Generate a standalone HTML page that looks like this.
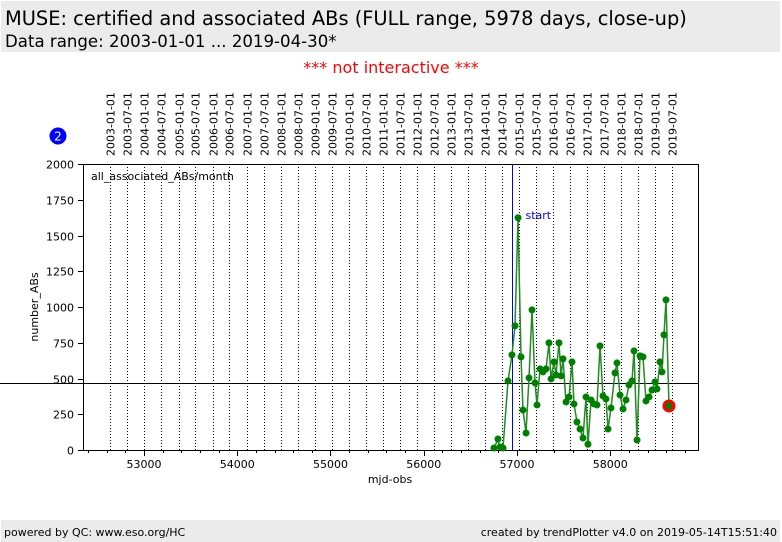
<!DOCTYPE html>
<html><head><meta charset="utf-8">
<style>
body{margin:0;width:782px;height:542px;background:#fff;font-family:"DejaVu Sans","Liberation Sans",sans-serif;position:relative;overflow:hidden}
#hdr{position:absolute;left:1px;top:1px;width:779px;height:51px;background:#ebebeb}
#t1{position:absolute;left:4px;top:6px;font-size:19.4px;color:#000}
#t2{position:absolute;left:4px;top:31px;font-size:16.6px;color:#000}
#ni{position:absolute;left:0;width:782px;top:58px;text-align:center;color:#f00;font-size:16px}
#ftr{position:absolute;left:1px;top:520px;width:779px;height:22px;background:#ebebeb;font-size:11px}
svg{position:absolute;left:0;top:0}
</style></head><body>
<div id="hdr">
<div id="t1">MUSE: certified and associated ABs (FULL range, 5978 days, close-up)</div>
<div id="t2">Data range: 2003-01-01 ... 2019-04-30*</div>
</div>
<div id="ni">*** not interactive ***</div>
<div id="ftr">
<span style="position:absolute;left:3px;top:6px">powered by QC: www.eso.org/HC</span>
<span style="position:absolute;right:3px;top:6px">created by trendPlotter v4.0 on 2019-05-14T15:51:40</span>
</div>
<svg id="chart" width="782" height="542"></svg>
<script>
const mjd=[56753,56796,56818,56850,56904,56946,56979,57011,57043,57064,57097,57129,57161,57193,57215,57247,57279,57311,57343,57365,57397,57418,57450,57472,57493,57526,57558,57590,57611,57643,57676,57708,57740,57761,57794,57826,57858,57890,57922,57954,57976,58008,58051,58072,58105,58137,58169,58201,58233,58255,58287,58319,58351,58383,58416,58448,58480,58501,58533,58555,58576,58598,58630];
const vals=[14,77,21,14,483,665,868,1624,651,280,119,504,980,469,315,567,546,567,749,497,616,525,749,518,637,336,371,616,322,196,147,84,371,40,350,322,315,728,378,357,147,294,539,609,385,287,350,455,483,693,70,658,651,343,371,420,476,427,616,546,805,1050,308];
const xTicks=[53000,54000,55000,56000,57000,58000];
const yTicks=[0,250,500,750,1000,1250,1500,1750,2000];
const dateLabels=["2003-01-01","2003-07-01","2004-01-01","2004-07-01","2005-01-01","2005-07-01","2006-01-01","2006-07-01","2007-01-01","2007-07-01","2008-01-01","2008-07-01","2009-01-01","2009-07-01","2010-01-01","2010-07-01","2011-01-01","2011-07-01","2012-01-01","2012-07-01","2013-01-01","2013-07-01","2014-01-01","2014-07-01","2015-01-01","2015-07-01","2016-01-01","2016-07-01","2017-01-01","2017-07-01","2018-01-01","2018-07-01","2019-01-01","2019-07-01"];
const meanVal=469;
const startMjd=56946;
const L=83,R=698,T=164,B=450,X0=52346,X1=58941,Y0=0,Y1=2000;
function sx(v){return L+(v-X0)/(X1-X0)*(R-L);}
function sy(v){return B-(v-Y0)/(Y1-Y0)*(B-T);}
function dateMjd(s){const d=new Date(s+"T00:00:00Z");return d.getTime()/86400000+40587;}
const svg=document.getElementById('chart');
const NS="http://www.w3.org/2000/svg";
function el(tag,attrs,txt){const e=document.createElementNS(NS,tag);for(const k in attrs)e.setAttribute(k,attrs[k]);if(txt!==undefined)e.textContent=txt;svg.appendChild(e);return e;}
dateLabels.forEach(s=>{const x=Math.round(sx(dateMjd(s)))+0.5;
const g=el('line',{x1:x,x2:x,y1:T,y2:B,stroke:'#000','stroke-width':1,'stroke-dasharray':'1,2'});


const t=el('text',{x:0,y:0,'font-size':11,transform:`translate(${x+4},156) rotate(-90)`,fill:'#000'},s);

});
const f=el('rect',{x:L+0.5,y:T+0.5,width:R-L,height:B-T,fill:'none',stroke:'#000','stroke-width':1});


for(let v=52400;v<=58900;v+=200){const x=Math.round(sx(v))+0.5;const major=v%1000===0;
const t=el('line',{x1:x,x2:x,y1:B,y2:B+(major?6:3),stroke:'#000'});

}
xTicks.forEach(v=>{const t=el('text',{x:sx(v),y:468,'font-size':11,'text-anchor':'middle'},v);

});
yTicks.forEach(v=>{const y=Math.round(sy(v))+0.5;
const l=el('line',{x1:L-5,x2:L,y1:y,y2:y,stroke:'#000'});


const t=el('text',{x:L-9,y:y+4,'font-size':11,'text-anchor':'end'},v);

});
const xt=el('text',{x:390,y:483,'font-size':11,'text-anchor':'middle'},'mjd-obs');


const yt=el('text',{x:0,y:0,'font-size':11,'text-anchor':'middle',transform:'translate(38,307) rotate(-90)'},'number_ABs');


const pl=el('text',{x:91,y:180,'font-size':11},'all_associated_ABs/month');


const my=Math.round(sy(meanVal))+0.5;
const ml=el('line',{x1:0,x2:R,y1:my,y2:my,stroke:'#000','stroke-width':1});


const sxp=Math.round(sx(startMjd))+0.5;
const sl=el('line',{x1:sxp,x2:sxp,y1:T,y2:B,stroke:'#00f','stroke-width':1});


const st=el('text',{x:sxp+13,y:219,'font-size':11,fill:'#00f'},'start');


const pts=mjd.map((m,i)=>sx(m).toFixed(1)+','+sy(vals[i]).toFixed(1)).join(' ');
const pln=el('polyline',{points:pts,fill:'none',stroke:'#228b22','stroke-width':1.5});


mjd.forEach((m,i)=>{
if(i===mjd.length-1){const r=el('circle',{cx:sx(m),cy:sy(vals[i]),r:6.5,fill:'#f00'});

}
const c=el('circle',{cx:sx(m),cy:sy(vals[i]),r:3.5,fill:'#008000'});

});
const bc=el('circle',{cx:58,cy:136,r:8.5,fill:'#00f'});


const bt=el('text',{x:58,y:140.5,'font-size':12,fill:'#fff','text-anchor':'middle'},'2');


</script>
</body></html>
